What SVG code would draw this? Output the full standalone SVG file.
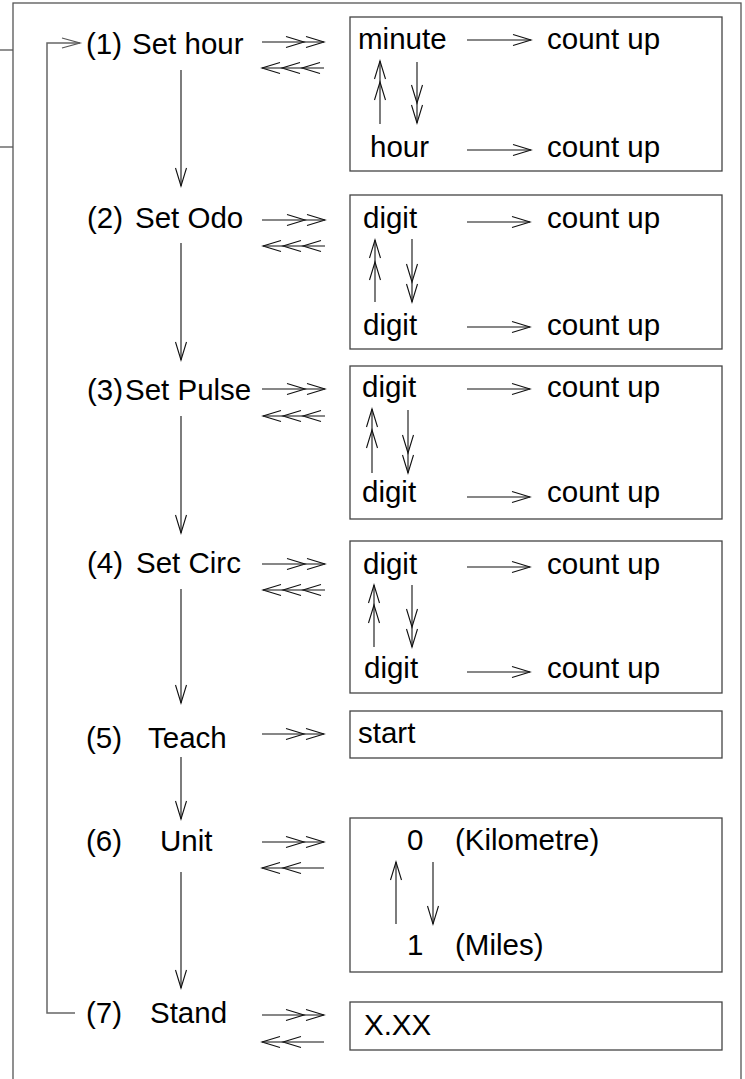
<svg xmlns="http://www.w3.org/2000/svg" width="745" height="1079" viewBox="0 0 745 1079">
<style>
text{font-family:"Liberation Sans",Arial,sans-serif;font-size:29.5px;fill:#000}
.box{fill:#fff;stroke:#444;stroke-width:1.3}
.frame{fill:none;stroke:#555;stroke-width:1.3}
.arr{fill:none;stroke:#111;stroke-width:1.1;marker-end:url(#h);marker-mid:url(#h)}
.loop{fill:none;stroke:#666;stroke-width:1.5}
</style>
<defs>
<marker id="h" markerUnits="userSpaceOnUse" viewBox="-20 -7 22 14" refX="0" refY="0" markerWidth="22" markerHeight="14" orient="auto" overflow="visible">
<path d="M-18,-5.5 L0,0 L-18,5.5" fill="none" stroke="#111" stroke-width="1.1"/>
</marker>
<marker id="hg" markerUnits="userSpaceOnUse" viewBox="-20 -7 22 14" refX="0" refY="0" markerWidth="22" markerHeight="14" orient="auto" overflow="visible">
<path d="M-18,-5 L0,0 L-18,5" fill="none" stroke="#555" stroke-width="1.2"/>
</marker>
</defs>
<rect class="frame" x="13" y="3" width="728" height="1100"/>
<line class="frame" x1="0" y1="50" x2="13" y2="50"/>
<line class="frame" x1="0" y1="147" x2="13" y2="147"/>

<g id="connectors">
<path class="loop" d="M75,1013 L47,1013 L47,43 L80,43" marker-end="url(#hg)"/>
<path class="arr" d="M262,42 L304,42 L324,42"/>
<path class="arr" d="M324,68 L302,68 L282,68 L262,68"/>
<path class="arr" d="M262,220 L305,220 L325,220"/>
<path class="arr" d="M325,246 L303,246 L283,246 L263,246"/>
<path class="arr" d="M262,389 L305,389 L325,389"/>
<path class="arr" d="M325,416 L303,416 L283,416 L263,416"/>
<path class="arr" d="M262,564 L305,564 L325,564"/>
<path class="arr" d="M325,590 L303,590 L283,590 L263,590"/>
<path class="arr" d="M262,734 L304,734 L324,734"/>
<path class="arr" d="M262,842 L304,842 L324,842"/>
<path class="arr" d="M324,868 L283,868 L262,868"/>
<path class="arr" d="M262,1015 L304,1015 L324,1015"/>
<path class="arr" d="M324,1042 L283,1042 L262,1042"/>
<path class="arr" d="M181,70 L181,186"/>
<path class="arr" d="M181,243 L181,360"/>
<path class="arr" d="M181,416 L181,533"/>
<path class="arr" d="M181,589 L181,703"/>
<path class="arr" d="M181,757 L181,819"/>
<path class="arr" d="M181,872 L181,988"/>
</g>

<g id="n1">
<text x="86" y="54">(1)</text><text x="132" y="54">Set hour</text>
</g>
<g id="n2">
<text x="87" y="228">(2)</text><text x="135" y="228">Set Odo</text>
</g>
<g id="n3">
<text x="87" y="400">(3)</text><text x="125" y="400">Set Pulse</text>
</g>
<g id="n4">
<text x="87" y="573">(4)</text><text x="136" y="573">Set Circ</text>
</g>
<g id="n5">
<text x="86" y="748">(5)</text><text x="148" y="748">Teach</text>
</g>
<g id="n6">
<text x="86" y="851">(6)</text><text x="160" y="851">Unit</text>
</g>
<g id="n7">
<text x="86" y="1023">(7)</text><text x="150" y="1023">Stand</text>
</g>

<g id="b1">
<rect class="box" x="350" y="17" width="372" height="154"/>
<text x="358" y="49">minute</text><text x="547" y="49">count up</text>
<text x="370" y="157">hour</text><text x="547" y="157">count up</text>
<path class="arr" d="M467,40 L531,40"/>
<path class="arr" d="M467,150 L531,150"/>
<path class="arr" d="M380,124 L380,82 L380,61"/>
<path class="arr" d="M417,62 L417,103 L417,123"/>
</g>
<g id="b2">
<rect class="box" x="350" y="195" width="372" height="154"/>
<text x="363" y="228">digit</text><text x="547" y="228">count up</text>
<text x="363" y="335">digit</text><text x="547" y="335">count up</text>
<path class="arr" d="M467,222 L530,222"/>
<path class="arr" d="M467,327 L530,327"/>
<path class="arr" d="M375,302 L375,262 L375,240"/>
<path class="arr" d="M412,239 L412,282 L412,302"/>
</g>
<g id="b3">
<rect class="box" x="350" y="366" width="372" height="153"/>
<text x="362" y="397">digit</text><text x="547" y="397">count up</text>
<text x="362" y="502">digit</text><text x="547" y="502">count up</text>
<path class="arr" d="M467,389 L530,389"/>
<path class="arr" d="M467,497 L530,497"/>
<path class="arr" d="M372,473 L372,430 L372,409"/>
<path class="arr" d="M408,410 L408,453 L408,473"/>
</g>
<g id="b4">
<rect class="box" x="350" y="541" width="372" height="152"/>
<text x="363" y="574">digit</text><text x="547" y="574">count up</text>
<text x="364" y="678">digit</text><text x="547" y="678">count up</text>
<path class="arr" d="M467,567 L530,567"/>
<path class="arr" d="M467,672 L530,672"/>
<path class="arr" d="M374,647 L374,605 L374,585"/>
<path class="arr" d="M412,585 L412,627 L412,647"/>
</g>
<g id="b5">
<rect class="box" x="350" y="711" width="372" height="47"/>
<text x="358" y="743">start</text>
</g>
<g id="b6">
<rect class="box" x="350" y="818" width="372" height="154"/>
<text x="407" y="850">0</text><text x="455" y="850">(Kilometre)</text>
<text x="407" y="955">1</text><text x="455" y="955">(Miles)</text>
<path class="arr" d="M396,924 L396,862"/>
<path class="arr" d="M433,862 L433,924"/>
</g>
<g id="b7">
<rect class="box" x="350" y="1002" width="372" height="48"/>
<text x="364" y="1035">X.XX</text>
</g>
</svg>
